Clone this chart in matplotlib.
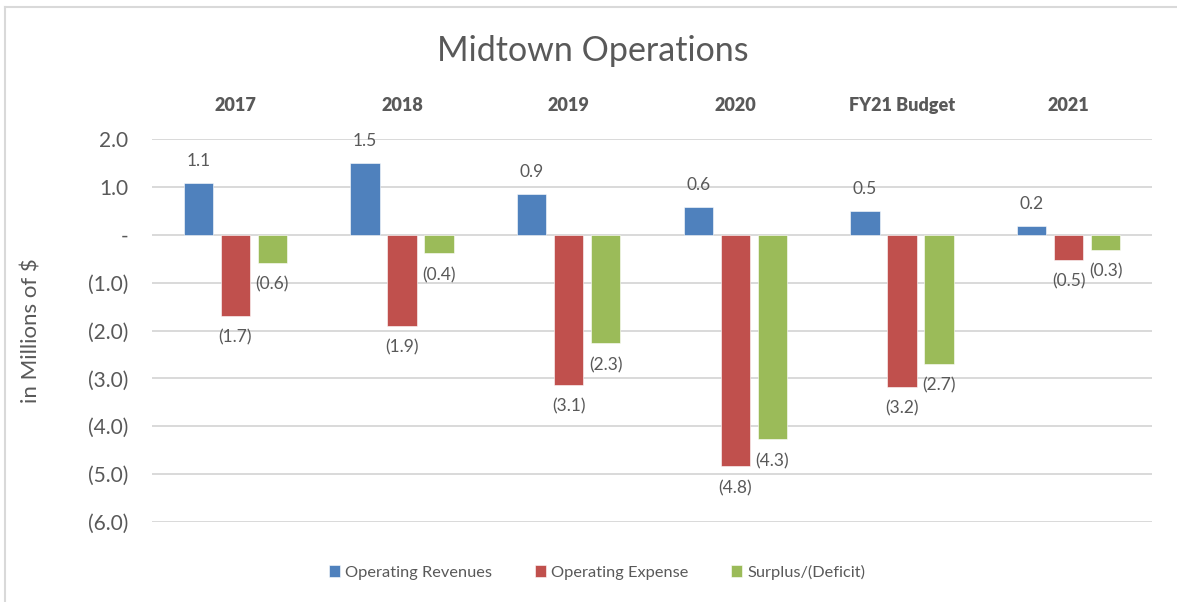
import matplotlib
matplotlib.use("Agg")
import matplotlib.pyplot as plt
from matplotlib.lines import Line2D
import numpy as np

plt.rcParams['font.family'] = ['Lato', 'DejaVu Sans']

categories = ["2017", "2018", "2019", "2020", "FY21 Budget", "2021"]
series_names = ["Operating Revenues", "Operating Expense", "Surplus/(Deficit)"]
revenues = [1.08, 1.50, 0.86, 0.59, 0.50, 0.19]
expenses = [-1.69, -1.90, -3.13, -4.83, -3.17, -0.52]
surplus = [-0.58, -0.38, -2.27, -4.27, -2.69, -0.31]
y_ticks = [2, 1, 0, -1, -2, -3, -4, -5, -6]
y_tick_labels = ["2.0", "1.0", "-", "(1.0)", "(2.0)", "(3.0)", "(4.0)", "(5.0)", "(6.0)"]

colors = ["#4F81BD", "#C0504D", "#9BBB59"]
text_color = "#595959"

fig = plt.figure(figsize=(11.77, 6.02), dpi=100)
ax = fig.add_axes([152/1177, 1-522/602, 1000/1177, (522-139)/602])

x = np.arange(len(categories))
width = 0.175
offset = 0.222

def fmt(v):
    return f"({abs(v):.1f})" if v < 0 else f"{v:.1f}"

for i, (vals, name) in enumerate(zip([revenues, expenses, surplus], series_names)):
    pos = x + (i - 1) * offset
    ax.bar(pos, vals, width, color=colors[i], label=name, zorder=3,
           edgecolor="white", linewidth=0.4)
    for p, v in zip(pos, vals):
        if v >= 0:
            ax.annotate(fmt(v), (p, v), xytext=(0, 10), textcoords="offset points",
                        ha="center", va="bottom", fontsize=12.5, color=text_color)
        else:
            ax.annotate(fmt(v), (p, v), xytext=(0, -10), textcoords="offset points",
                        ha="center", va="top", fontsize=12.5, color=text_color)

ax.set_xlim(-0.5, len(categories) - 0.5)
ax.set_ylim(-6, 2)
ax.set_yticks(y_ticks)
ax.set_yticklabels(y_tick_labels, fontsize=15, color=text_color)
ax.tick_params(axis="y", length=0, pad=17)
ax.set_xticks(x)
ax.set_xticklabels(categories, fontsize=13, fontweight="heavy", color=text_color)
ax.xaxis.set_ticks_position("top")
ax.tick_params(axis="x", length=0, pad=18)
ax.grid(axis="y", color="#D9D9D9", linewidth=1.4, zorder=0)
for s in ax.spines.values():
    s.set_visible(False)
ax.set_ylabel("in Millions of $", fontsize=16, color=text_color)
ax.yaxis.set_label_coords(-0.110, 0.5)

fig.text(593/1177, 1-51/602, "Midtown Operations", ha="center", va="center",
         fontsize=24.5, color=text_color)

leg = fig.legend(loc="center", bbox_to_anchor=(597/1177, 1-572/602), ncol=3,
                 frameon=False, fontsize=11.8, handlelength=0.7, handleheight=0.7,
                 handletextpad=0.3, columnspacing=2.6)
for t in leg.get_texts():
    t.set_color(text_color)

# partial border of chart frame
fig.add_artist(Line2D([5/1177, 5/1177], [0, 1-7/602], transform=fig.transFigure,
                      color="#D9D9D9", linewidth=1.5))
fig.add_artist(Line2D([5/1177, 1], [1-7/602, 1-7/602], transform=fig.transFigure,
                      color="#D9D9D9", linewidth=1.5))

fig.savefig("out.png", dpi=100)
